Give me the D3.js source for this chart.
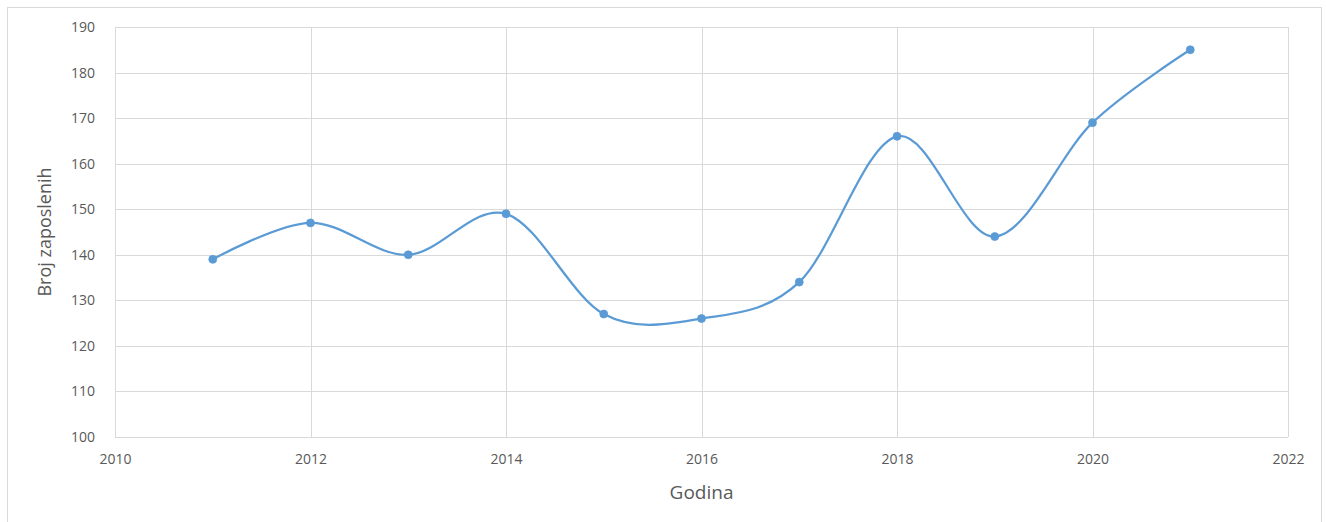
<!DOCTYPE html>
<html><head><meta charset="utf-8">
<script src="https://cdn.jsdelivr.net/npm/d3@7"></script>
<style>body{margin:0;background:#fff}svg{display:block}</style>
</head><body>
<script>
const years = [2011,2012,2013,2014,2015,2016,2017,2018,2019,2020,2021];
const employees = [139,147,140,149,127,126,134,166,144,169,185];
const xTicks = [2010,2012,2014,2016,2018,2020,2022];
const yTicks = [100,110,120,130,140,150,160,170,180,190];
const xTitle = "Godina";
const yTitle = "Broj zaposlenih";

const W = 1326, H = 522;
const m = {left:115, right:1288, top:27, bottom:437};
const svg = d3.select("body").append("svg").attr("width",W).attr("height",H);
svg.append("rect").attr("x",7.5).attr("y",7.5).attr("width",1314).attr("height",520)
  .attr("fill","#fff").attr("stroke","#d9d9d9");

const x = d3.scaleLinear().domain([2010,2022]).range([m.left,m.right]);
const y = d3.scaleLinear().domain([100,190]).range([m.bottom,m.top]);
const font = "'Open Sans', 'Liberation Sans', sans-serif";
const grid = svg.append("g");
grid.selectAll("line.h").data(yTicks).join("line")
  .attr("x1",m.left).attr("x2",m.right)
  .attr("y1",d=>Math.round(y(d))+0.5).attr("y2",d=>Math.round(y(d))+0.5)
  .attr("stroke","#d9d9d9").attr("stroke-width",1);
grid.selectAll("line.v").data(xTicks).join("line")
  .attr("y1",m.top).attr("y2",m.bottom)
  .attr("x1",d=>Math.round(x(d))+0.5).attr("x2",d=>Math.round(x(d))+0.5)
  .attr("stroke","#d9d9d9").attr("stroke-width",1);

const yAxis = svg.append("g").attr("transform",`translate(${m.left-20},0)`)
  .call(d3.axisLeft(y).tickValues(yTicks).tickSize(0).tickPadding(0));
yAxis.select(".domain").remove();
yAxis.selectAll("text").attr("fill","#595959").style("font-family",font).style("font-size","14px");

const xAxis = svg.append("g").attr("transform",`translate(0,${m.bottom+17})`)
  .call(d3.axisBottom(x).tickValues(xTicks).tickFormat(d3.format("d")).tickSize(0).tickPadding(0));
xAxis.select(".domain").remove();
xAxis.selectAll("text").attr("fill","#595959").style("font-family",font).style("font-size","14px");

svg.append("text").attr("x",(m.left+m.right)/2).attr("y",499).attr("text-anchor","middle")
  .attr("fill","#595959").style("font-family",font).style("font-size","19px").text(xTitle);
svg.append("text").attr("transform",`translate(51,${(m.top+m.bottom)/2}) rotate(-90)`)
  .attr("text-anchor","middle").attr("fill","#595959").style("font-family",font).style("font-size","18px").text(yTitle);

const data = years.map((yr,i)=>({yr, v:employees[i]}));
const line = d3.line().x(d=>x(d.yr)).y(d=>y(d.v)).curve(d3.curveCardinal.tension(0));
svg.append("path").datum(data).attr("d",line).attr("fill","none")
  .attr("stroke","#5b9bd5").attr("stroke-width",2.25).attr("stroke-linejoin","round");
svg.selectAll("circle.pt").data(data).join("circle")
  .attr("cx",d=>x(d.yr)).attr("cy",d=>y(d.v)).attr("r",4)
  .attr("fill","#5b9bd5").attr("stroke","#5b9bd5").attr("stroke-width",0.75);
</script>
</body></html>
